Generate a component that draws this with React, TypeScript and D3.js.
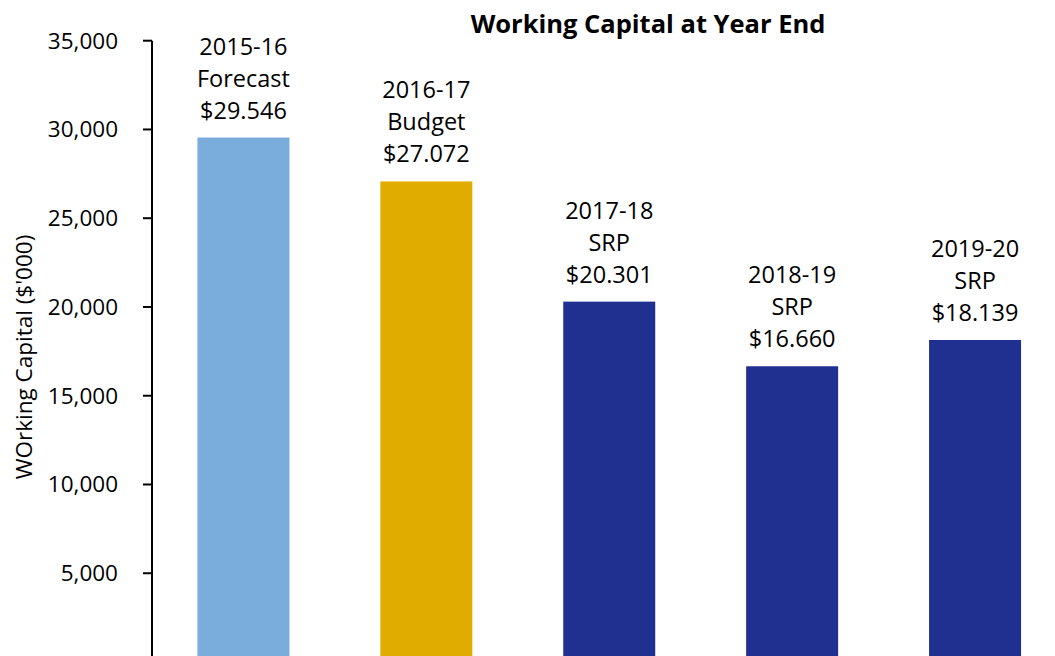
import { useEffect } from 'react';
import * as d3 from 'd3';

// 차트 데이터
const categories = ['2015-16', '2016-17', '2017-18', '2018-19', '2019-20'];
const subtitles = ['Forecast', 'Budget', 'SRP', 'SRP', 'SRP'];
const values = [29546, 27072, 20301, 16660, 18139];
const barColors = ['#7BADDC', '#E1AC00', '#203090', '#203090', '#203090'];
const yTicks = [5000, 10000, 15000, 20000, 25000, 30000, 35000];

const WIDTH = 1055;
const HEIGHT = 656;
const FONT = '"Open Sans", "Noto Sans", sans-serif';

export default function App() {
  useEffect(() => {
    document.body.style.margin = '0';
  }, []);

  const x = d3
    .scaleBand<string>()
    .domain(categories)
    .range([152, 1066.5])
    .paddingInner(0.497)
    .paddingOuter(0.2485);

  const y = d3.scaleLinear().domain([0, 35000]).range([662, 40.7]);
  const fmt = d3.format(',');

  return (
    <svg width={WIDTH} height={HEIGHT} style={{ display: 'block' }} fontFamily={FONT}>
      <rect width={WIDTH} height={HEIGHT} fill="#fff" />

      {/* 제목 */}
      <text x={648} y={33} textAnchor="middle" fontWeight="bold" fontSize={25.5} fill="#000">
        Working Capital at Year End
      </text>

      {/* 막대 */}
      {values.map((v, i) => (
        <rect
          key={categories[i]}
          x={x(categories[i])}
          y={y(v)}
          width={x.bandwidth()}
          height={y(0) - y(v)}
          fill={barColors[i]}
        />
      ))}

      {/* 막대 라벨 */}
      {values.map((v, i) => {
        const cx = (x(categories[i]) ?? 0) + x.bandwidth() / 2;
        const base = y(v) - 19;
        return (
          <text key={'l' + i} x={cx} textAnchor="middle" fontSize={23.5} fill="#000">
            <tspan x={cx} y={base - 64}>{categories[i]}</tspan>
            <tspan x={cx} y={base - 32}>{subtitles[i]}</tspan>
            <tspan x={cx} y={base}>{`$${(v / 1000).toFixed(3)}`}</tspan>
          </text>
        );
      })}

      {/* Y축 */}
      <line x1={152} x2={152} y1={y(35000)} y2={HEIGHT} stroke="#000" strokeWidth={2} />
      {yTicks.map((t) => (
        <g key={t}>
          <line x1={143} x2={152} y1={y(t)} y2={y(t)} stroke="#000" strokeWidth={2} />
          <text x={118} y={y(t)} dy="0.35em" textAnchor="end" fontSize={22.5} fill="#000">
            {fmt(t)}
          </text>
        </g>
      ))}

      {/* Y축 라벨 */}
      <text
        transform="translate(32,357) rotate(-90)"
        textAnchor="middle"
        fontSize={22.5}
        fill="#000"
      >
        WOrking Capital ($'000)
      </text>
    </svg>
  );
}
